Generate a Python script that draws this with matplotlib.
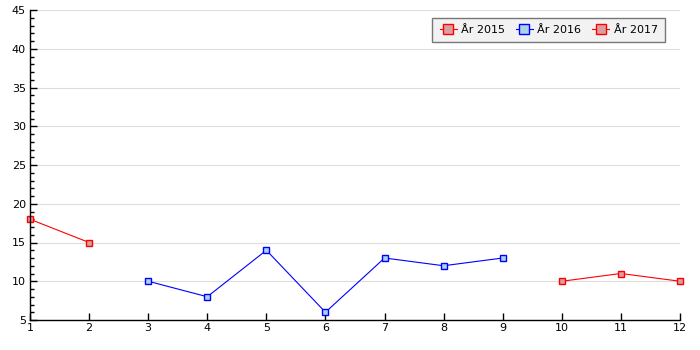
import matplotlib
matplotlib.use("Agg")
import matplotlib.pyplot as plt
from matplotlib.ticker import MultipleLocator

x2015 = [1, 2]
y2015 = [18, 15]
x2016 = [3, 4, 5, 6, 7, 8, 9]
y2016 = [10, 8, 14, 6, 13, 12, 13]
x2017 = [10, 11, 12]
y2017 = [10, 11, 10]
labels = ["År 2015", "År 2016", "År 2017"]

plt.rcParams['font.family'] = ['DejaVu Sans']
fig = plt.figure(figsize=(7, 3.5), dpi=100)
ax = fig.add_axes([30/700, 30/350, 650/700, 310/350])

red_fill = "#d8a0a0"
blue_fill = "#a8d4ea"
kw = dict(marker='s', markersize=4.5, linewidth=0.8, markeredgewidth=1.0)
ax.plot(x2015, y2015, color='#ff0000', markerfacecolor=red_fill, markeredgecolor='#ff0000', label=labels[0], **kw)
ax.plot(x2016, y2016, color='#0000ff', markerfacecolor=blue_fill, markeredgecolor='#0000ff', label=labels[1], **kw)
ax.plot(x2017, y2017, color='#ff0000', markerfacecolor=red_fill, markeredgecolor='#ff0000', label=labels[2], **kw)

ax.set_xlim(1, 12)
ax.set_ylim(5, 45)
ax.set_xticks(range(1, 13))
ax.yaxis.set_major_locator(MultipleLocator(5))
ax.yaxis.set_minor_locator(MultipleLocator(1))
ax.tick_params(axis='both', which='major', direction='in', length=5, width=1, labelsize=8, colors='black')
ax.tick_params(axis='y', which='minor', direction='in', length=3, width=1)
ax.tick_params(axis='x', pad=2)
ax.tick_params(axis='y', pad=3)
ax.grid(axis='y', which='major', color='#dddddd', linewidth=0.8)
ax.set_axisbelow(True)
for s in ['top', 'right']:
    ax.spines[s].set_visible(False)
for s in ['left', 'bottom']:
    ax.spines[s].set_linewidth(1)

for line in ax.lines:
    line.set_clip_on(False)

leg = ax.legend(loc='upper right', bbox_to_anchor=(635/650, 1 - 8/310), ncol=3, fontsize=8,
                frameon=True, fancybox=False, handlelength=1.55, handletextpad=0.4,
                columnspacing=0.95, borderpad=0.65, borderaxespad=0, markerscale=1.5)
leg.get_frame().set_facecolor('#f2f2f2')
leg.get_frame().set_edgecolor('#777777')
leg.get_frame().set_linewidth(1)
leg.get_frame().set_alpha(1)

fig.savefig("out.png", dpi=100)
